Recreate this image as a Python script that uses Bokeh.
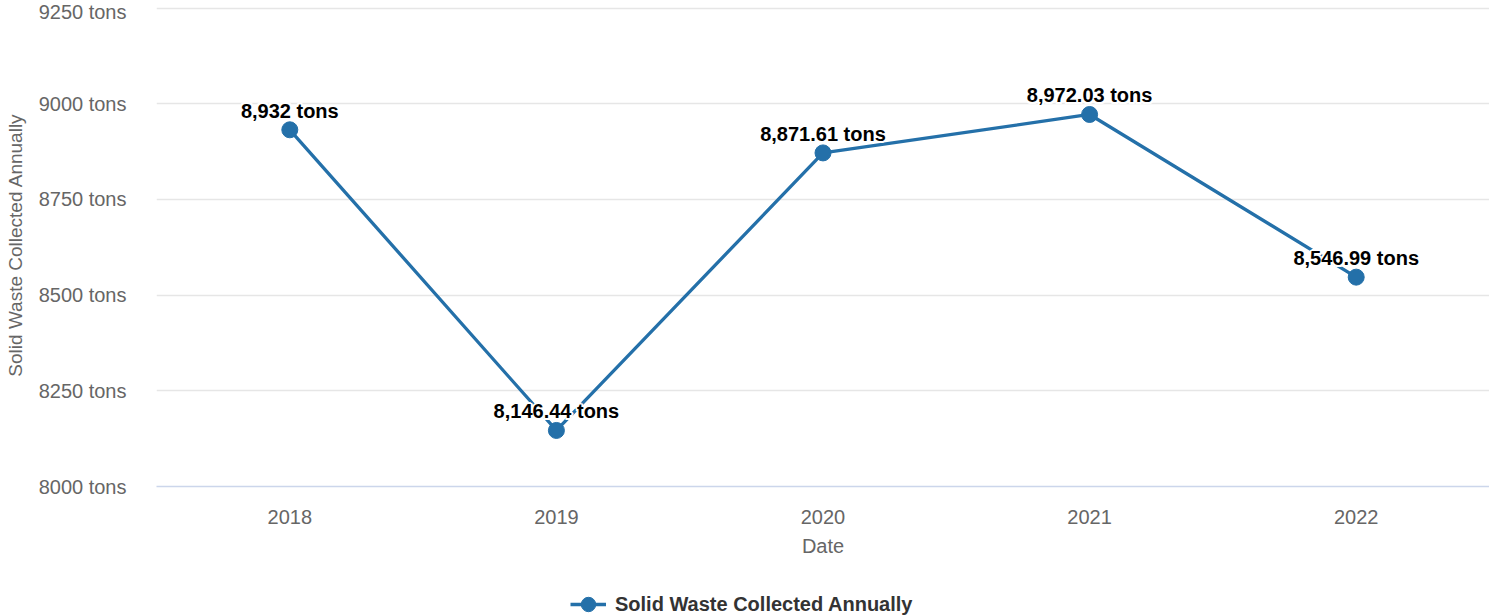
from bokeh.plotting import figure
from bokeh.layouts import column
from bokeh.models import (ColumnDataSource, FixedTicker, PrintfTickFormatter, Range1d,
                          Legend, LegendItem, FactorRange)
from bokeh.core.properties import value
from bokeh.embed import file_html
from bokeh.resources import INLINE

years = ["2018", "2019", "2020", "2021", "2022"]
tons = [8932.0, 8146.44, 8871.61, 8972.03, 8546.99]
labels = ["8,932 tons", "8,146.44 tons", "8,871.61 tons", "8,972.03 tons", "8,546.99 tons"]
y_ticks = [8000, 8250, 8500, 8750, 9000, 9250]
series_name = "Solid Waste Collected Annually"

COLOR = "#2470a9"
FONT = "Liberation Sans"
FS = "20px"

src = ColumnDataSource(dict(x=years, y=tons, label=labels))

p = figure(width=1489, height=576, output_backend="svg", toolbar_location=None,
           x_range=FactorRange(*years, range_padding=0),
           y_range=Range1d(8000, 9262),
           min_border_left=156, min_border_right=0, min_border_top=3, min_border_bottom=90)
p.outline_line_color = None
p.background_fill_color = "white"
p.border_fill_color = "white"

line = p.line("x", "y", source=src, line_color=COLOR, line_width=3.3)
pts = p.scatter("x", "y", source=src, size=16, fill_color=COLOR, line_color=COLOR)

# data labels with a white halo
label_kw = dict(source=src, text="label", text_align="center", text_baseline="alphabetic",
                text_font=value(FONT), text_font_size=FS, text_font_style="bold")
for dx, dy in [(-2, 0), (2, 0), (0, -2), (0, 2), (-1.5, -1.5), (1.5, 1.5), (-1.5, 1.5), (1.5, -1.5)]:
    p.text("x", "y", x_offset=dx, y_offset=-19 + dy, text_color="white", **label_kw)
p.text("x", "y", x_offset=0, y_offset=-19, text_color="black", **label_kw)

# axes
yax = p.yaxis[0]
yax.ticker = FixedTicker(ticks=y_ticks)
yax.formatter = PrintfTickFormatter(format="%d tons")
yax.axis_line_color = None
yax.major_tick_line_color = None
yax.minor_tick_line_color = None
yax.major_tick_out = 0
yax.major_tick_in = 0
yax.minor_tick_out = 0
yax.major_label_text_font = FONT
yax.major_label_text_font_size = FS
yax.major_label_text_color = "#666666"
yax.major_label_standoff = 30
yax.axis_label = series_name
yax.axis_label_text_font = FONT
yax.axis_label_text_font_size = "19px"
yax.axis_label_text_font_style = "normal"
yax.axis_label_text_color = "#666666"
yax.axis_label_standoff = 10

xax = p.xaxis[0]
xax.axis_line_color = "#ccd6eb"
xax.axis_line_width = 1.5
xax.major_tick_line_color = None
xax.minor_tick_line_color = None
xax.major_label_text_font = FONT
xax.major_label_text_font_size = FS
xax.major_label_text_color = "#666666"
xax.major_label_standoff = 17
xax.axis_label = "Date"
xax.axis_label_text_font = FONT
xax.axis_label_text_font_size = FS
xax.axis_label_text_font_style = "normal"
xax.axis_label_text_color = "#666666"
xax.axis_label_standoff = 8

p.xgrid.grid_line_color = None
p.ygrid.grid_line_color = "#e6e6e6"
p.ygrid.grid_line_width = 1.3
p.ygrid.ticker = FixedTicker(ticks=y_ticks)

# legend strip below the chart (series drawn off-canvas so only the legend shows)
lp = figure(width=1489, height=40, output_backend="svg", toolbar_location=None,
            x_range=FactorRange(*years, range_padding=0), y_range=Range1d(0, 1),
            x_axis_location=None, y_axis_location=None,
            min_border=0, min_border_left=0, min_border_right=0,
            min_border_top=0, min_border_bottom=0)
lp.grid.visible = False
lp.outline_line_color = None
lline = lp.line("x", "y", source=src, line_color=COLOR, line_width=3.3)
lpts = lp.scatter("x", "y", source=src, size=16, fill_color=COLOR, line_color=COLOR)

legend = Legend(items=[LegendItem(label=series_name, renderers=[lline, lpts])],
                location=(414, -8), orientation="horizontal",
                padding=0, margin=0, spacing=0, border_line_color=None,
                background_fill_alpha=0, glyph_width=36, glyph_height=40, label_standoff=9,
                label_text_font=FONT, label_text_font_size=FS, label_text_font_style="bold",
                label_text_color="#333333")
lp.add_layout(legend, "center")

layout = column(p, lp, spacing=0)
open("out.html", "w").write(file_html(layout, INLINE))
